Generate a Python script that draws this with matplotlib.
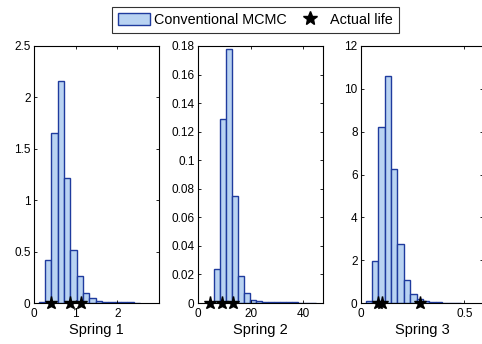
import matplotlib
matplotlib.use("Agg")
import matplotlib.pyplot as plt
from matplotlib.patches import Patch
from matplotlib.lines import Line2D

plt.rcParams['font.family'] = ['Liberation Sans', 'DejaVu Sans']

# ---- data ----
labels = ["Spring 1", "Spring 2", "Spring 3"]

s1_start, s1_width = 0.11, 0.152
s1_heights = [0.01, 0.42, 1.65, 2.16, 1.22, 0.52, 0.26, 0.10, 0.05, 0.02,
              0.007, 0.005, 0.005, 0.005, 0.005, 0.004]
s1_actual = [0.40, 0.87, 1.13]

s2_start, s2_width = 3.7, 2.3
s2_heights = [0.001, 0.024, 0.129, 0.178, 0.075, 0.019, 0.007, 0.0024, 0.0012,
              0.0006, 0.0005, 0.0005, 0.0004, 0.0004, 0.0004, 0.0003, 0.0003, 0.0003]
s2_actual = [4.7, 9.3, 13.4]

s3_start, s3_width = 0.0225, 0.0308
s3_heights = [0.1, 1.97, 8.2, 10.6, 6.28, 2.75, 1.07, 0.42, 0.17, 0.08,
              0.04, 0.03, 0.02, 0.02, 0.02]
s3_actual = [0.084, 0.102, 0.283]

xlims = [(0, 3.0), (0, 47.6), (0, 0.59)]
ylims = [(0, 2.5), (0, 0.18), (0, 12)]
xticks = [[0, 1, 2], [0, 20, 40], [0, 0.5]]
xticklabels = [["0", "1", "2"], ["0", "20", "40"], ["0", "0.5"]]
yticks = [[0, 0.5, 1, 1.5, 2, 2.5],
          [0, 0.02, 0.04, 0.06, 0.08, 0.1, 0.12, 0.14, 0.16, 0.18],
          [0, 2, 4, 6, 8, 10, 12]]
yticklabels = [["0", "0.5", "1", "1.5", "2", "2.5"],
               ["0", "0.02", "0.04", "0.06", "0.08", "0.1", "0.12", "0.14", "0.16", "0.18"],
               ["0", "2", "4", "6", "8", "10", "12"]]

series = [(s1_start, s1_width, s1_heights, s1_actual),
          (s2_start, s2_width, s2_heights, s2_actual),
          (s3_start, s3_width, s3_heights, s3_actual)]

face = "#b9d3f2"
edge = "#1f3b9e"

W, H = 482, 344
fig = plt.figure(figsize=(W / 100, H / 100), dpi=100)

lefts = [34, 198, 361]
widths = [125, 125, 122]
top_px, bot_px = 46, 303

for i, (start, width, heights, actual) in enumerate(series):
    ax = fig.add_axes([lefts[i] / W, (H - bot_px) / H, widths[i] / W, (bot_px - top_px) / H])
    x = [start + k * width for k in range(len(heights))]
    ax.bar(x, heights, width=width, align='edge', color=face, edgecolor=edge, linewidth=1.0)
    ax.plot(actual, [0] * len(actual), linestyle='none', marker='*', color='black',
            markersize=9.5, clip_on=False, zorder=5)
    ax.set_xlim(*xlims[i])
    ax.set_ylim(*ylims[i])
    ax.set_xticks(xticks[i])
    ax.set_xticklabels(xticklabels[i])
    ax.set_yticks(yticks[i])
    ax.set_yticklabels(yticklabels[i])
    ax.tick_params(direction='in', top=True, right=True, labelsize=8.5, length=2.5, width=0.6)
    ax.tick_params(axis='x', pad=3.5)
    ax.tick_params(axis='y', pad=2.5)
    for sp in ax.spines.values():
        sp.set_linewidth(0.8)
    ax.set_xlabel(labels[i], fontsize=10.5, labelpad=2)

handles = [Patch(facecolor=face, edgecolor=edge, linewidth=1.0),
           Line2D([], [], linestyle='none', marker='*', color='black', markersize=10)]
leg = fig.legend(handles, ["Conventional MCMC", "Actual life"], loc='upper left',
                 bbox_to_anchor=(112 / W, 1.0 - 7 / H), ncol=2, fontsize=10.4, frameon=True,
                 fancybox=False, edgecolor='black', borderpad=0.4, handlelength=2.2,
                 handleheight=0.9, handletextpad=0.3, columnspacing=0.5, borderaxespad=0.0)
leg.get_frame().set_linewidth(0.8)

fig.savefig("out.png", dpi=100)
